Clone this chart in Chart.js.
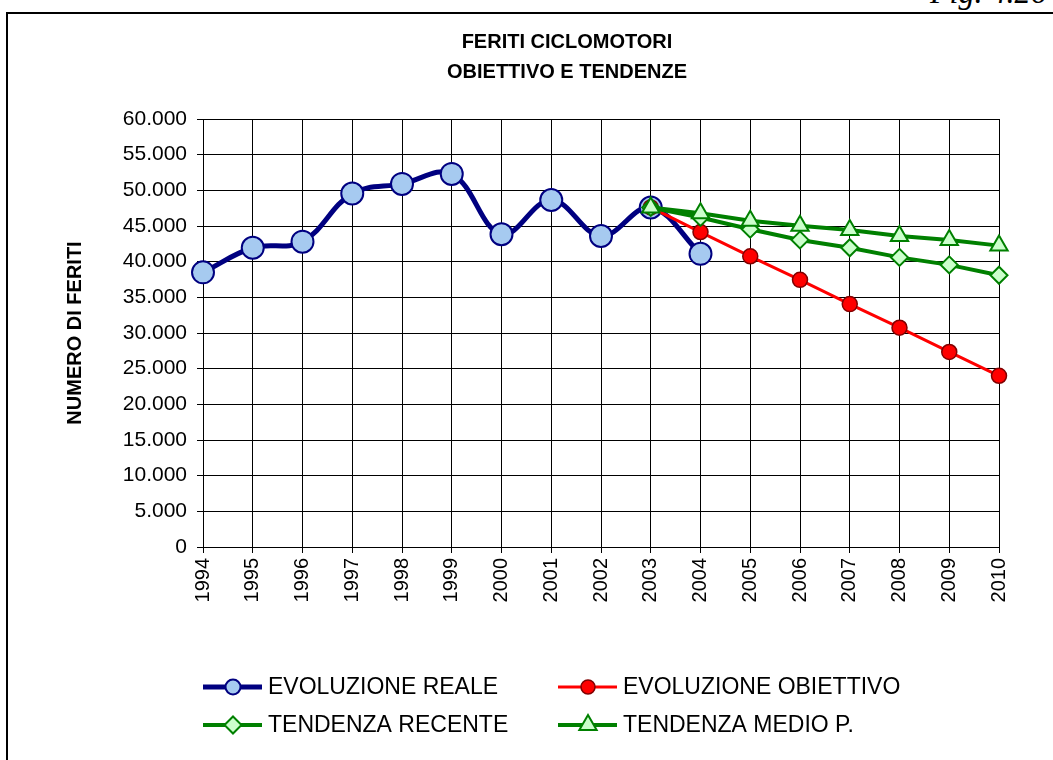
<!DOCTYPE html>
<html>
<head>
<meta charset="utf-8">
<script src="https://cdn.jsdelivr.net/npm/chart.js@4.4.1/dist/chart.umd.min.js"></script>
<style>
  body { margin: 0; background: #fff; overflow: hidden; }
  #frame { position: absolute; left: 6px; top: 12px; width: 1100px; height: 800px;
           border-left: 2px solid #000; border-top: 2px solid #000; }
  #fig { position: absolute; left: 930px; top: -24px; font: italic 32px 'Liberation Serif', serif;
         line-height: 32px; white-space: nowrap; }
  #myChart { position: absolute; left: 0; top: 0; }
</style>
</head>
<body>
<div id="fig">Fig. 4.26</div>
<div id="frame"></div>
<canvas id="myChart" width="1053" height="760"></canvas>
<script>
const ctx = document.getElementById('myChart');

const years = ['1994', '1995', '1996', '1997', '1998', '1999', '2000', '2001', '2002',
               '2003', '2004', '2005', '2006', '2007', '2008', '2009', '2010'];

// feriti reali
const reale = [38500, 41950, 42800, 49550, 50900, 52300, 43850, 48650, 43600, 47600, 41100,
               null, null, null, null, null, null];
// obiettivo
const obiettivo = [null, null, null, null, null, null, null, null, null,
                   47600, 44150, 40750, 37450, 34050, 30750, 27350, 24000];
// tendenze
const recente = [null, null, null, null, null, null, null, null, null,
                 47600, 46200, 44550, 43050, 41950, 40600, 39550, 38100];
const medio = [null, null, null, null, null, null, null, null, null,
               47600, 46800, 45750, 45050, 44450, 43600, 43050, 42250];

const seriesNames = ['EVOLUZIONE REALE', 'EVOLUZIONE OBIETTIVO', 'TENDENZA RECENTE', 'TENDENZA MEDIO P.'];
const titleLines = ['FERITI CICLOMOTORI', 'OBIETTIVO E TENDENZE'];

const FONT = "'Liberation Sans', Arial, sans-serif";
Chart.defaults.font.family = FONT;
Chart.defaults.color = '#000';

function fmt(v) {
    return String(v).replace(/\B(?=(\d{3})+(?!\d))/g, '.');
}

// titolo + legenda disegnati a mano
const extras = {
    id: 'extras',
    afterDraw(chart) {
        const c = chart.ctx;
        c.save();
        c.fillStyle = '#000';
        c.textAlign = 'center';
        c.textBaseline = 'middle';
        c.font = 'bold 20px ' + FONT;
        c.fillText(titleLines[0], 567, 42);
        c.fillText(titleLines[1], 567, 72);

        const pos = [[203, 687], [558, 687], [203, 725], [558, 725]];
        chart.data.datasets.forEach((ds, i) => {
            const x = pos[i][0], y = pos[i][1];
            c.beginPath();
            c.strokeStyle = ds.borderColor;
            c.lineWidth = ds.borderWidth;
            c.moveTo(x, y);
            c.lineTo(x + 59, y);
            c.stroke();
            c.fillStyle = ds.pointBackgroundColor;
            c.strokeStyle = ds.pointBorderColor;
            c.lineWidth = ds.pointBorderWidth;
            Chart.helpers.drawPoint(c, {
                pointStyle: ds.pointStyle,
                radius: ds.legendRadius,
                rotation: 0,
                borderWidth: ds.pointBorderWidth
            }, x + 30, y);
            c.fillStyle = '#000';
            c.textAlign = 'left';
            c.font = '23px ' + FONT;
            c.fillText(ds.label, x + 65, y + 1);
        });
        c.restore();
    }
};

new Chart(ctx, {
    type: 'line',
    data: {
        labels: years,
        datasets: [{
            label: seriesNames[0],
            data: reale,
            borderColor: '#000080',
            borderWidth: 5,
            tension: 0.38,
            pointStyle: 'circle',
            pointRadius: 11,
            legendRadius: 7.5,
            pointBackgroundColor: '#A6CAF0',
            pointBorderColor: '#000080',
            pointBorderWidth: 2,
            order: 3
        }, {
            label: seriesNames[1],
            data: obiettivo,
            borderColor: '#FF0000',
            borderWidth: 3,
            tension: 0,
            pointStyle: 'circle',
            pointRadius: 7.5,
            legendRadius: 7,
            pointBackgroundColor: '#FF0000',
            pointBorderColor: '#800000',
            pointBorderWidth: 1.5,
            order: 2
        }, {
            label: seriesNames[2],
            data: recente,
            borderColor: '#008000',
            borderWidth: 4,
            tension: 0,
            pointStyle: 'rectRot',
            pointRadius: 8.5,
            legendRadius: 8.5,
            pointBackgroundColor: '#CCFFCC',
            pointBorderColor: '#008000',
            pointBorderWidth: 2,
            order: 1
        }, {
            label: seriesNames[3],
            data: medio,
            borderColor: '#008000',
            borderWidth: 4,
            tension: 0,
            pointStyle: 'triangle',
            pointRadius: 10,
            legendRadius: 10,
            pointBackgroundColor: '#CCFFCC',
            pointBorderColor: '#008000',
            pointBorderWidth: 2,
            order: 0
        }]
    },
    options: {
        responsive: false,
        devicePixelRatio: 1,
        animation: false,
        layout: { padding: { left: 59, right: 54, top: 119, bottom: 143 } },
        plugins: {
            legend: { display: false },
            title: { display: false },
            tooltip: { enabled: false }
        },
        scales: {
            x: {
                offset: false,
                grid: { color: '#000', lineWidth: 1, tickLength: 6 },
                border: { color: '#000', width: 1 },
                ticks: { autoSkip: false, maxRotation: 90, minRotation: 90, padding: 5,
                         font: { size: 20 }, color: '#000' },
                afterFit: (s) => { s.height = 70; }
            },
            y: {
                min: 0,
                max: 60000,
                grid: { color: '#000', lineWidth: 1, tickLength: 6 },
                border: { color: '#000', width: 1 },
                ticks: { stepSize: 5000, padding: 10, font: { size: 21 }, color: '#000',
                         callback: (v) => fmt(v) },
                title: { display: true, text: 'NUMERO DI FERITI', color: '#000',
                         font: { size: 20, weight: 'bold' }, padding: { top: 4, bottom: 4 } },
                afterFit: (s) => { s.width = 144; }
            }
        }
    },
    plugins: [extras]
});
</script>
</body>
</html>
